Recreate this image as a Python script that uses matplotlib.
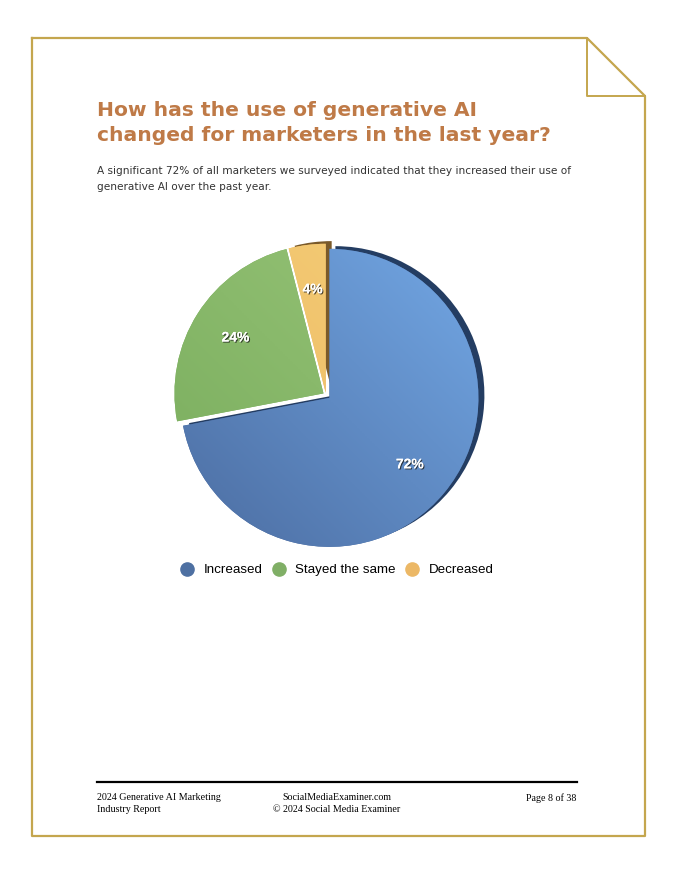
import numpy as np
import matplotlib as mpl
mpl.use('Agg')
import matplotlib.pyplot as plt
import matplotlib.colors as colors
import matplotlib.patheffects as pe
from matplotlib.lines import Line2D

labels = ['Increased', 'Stayed the same', 'Decreased']
values = [72, 24, 4]

title = 'How has the use of generative AI\nchanged for marketers in the last year?'
subtitle = ('A significant 72% of all marketers we surveyed indicated that they increased their use of\n'
            'generative AI over the past year.')
footer_left = '2024 Generative AI Marketing\nIndustry Report'
footer_mid = 'SocialMediaExaminer.com\n\u00a9 2024 Social Media Examiner'
footer_right = 'Page 8 of 38'

W, H = 674, 874
GOLD = '#C4A64E'
legend_cols = ['#4E70A2', '#80AF66', '#ECB866']
grad_cols = [('#4A6A9E', '#74AAE8'), ('#78AC5C', '#9AC67A'), ('#E9B55E', '#F7D07A')]
side_cols = ['#243D62', '#78AC5C', '#7A5A2A']

fig = plt.figure(figsize=(W / 100, H / 100), dpi=100)

# page decoration and text, in pixel coordinates
bg = fig.add_axes([0, 0, 1, 1])
bg.set_xlim(0, W)
bg.set_ylim(H, 0)
bg.axis('off')
bg.plot([32, 587, 645, 645, 32, 32], [38, 38, 96, 836, 836, 38], color=GOLD, lw=1.6)
bg.plot([587, 587, 645], [38, 96, 96], color=GOLD, lw=1.4)

bg.text(97, 101, title, fontsize=14.6, fontweight='bold', color='#BF7A47',
        va='top', ha='left', linespacing=1.38, family='DejaVu Sans')
bg.text(97, 166, subtitle, fontsize=7.6, color='#333333', va='top', ha='left',
        linespacing=1.75, family='DejaVu Sans')

bg.plot([97, 577], [782, 782], color='black', lw=1.6)
bg.text(97, 793, footer_left, fontsize=7.2, family='Liberation Serif', va='top', ha='left', linespacing=1.45)
bg.text(337, 793, footer_mid, fontsize=7.2, family='Liberation Serif', va='top', ha='center', linespacing=1.45)
bg.text(576, 793, footer_right, fontsize=7.2, family='Liberation Serif', va='top', ha='right')

# pie
cx, cy, r = 326, 395, 149
size = 340
lim = size / 2 / r
ax = fig.add_axes([(cx - size / 2) / W, (H - cy - size / 2) / H, size / W, size / H])
explode = [0.03, 0.02, 0.015]

# dark side faces, slightly offset up-right
sides, _ = ax.pie(values, colors=side_cols, startangle=90, counterclock=False, explode=explode,
                  center=(0.04, 0.018), wedgeprops=dict(linewidth=0))

wedges, texts, autotexts = ax.pie(
    values, colors=[c[0] for c in grad_cols], startangle=90, counterclock=False,
    explode=explode, autopct='%d%%', pctdistance=0.7,
    wedgeprops=dict(linewidth=0),
    textprops=dict(color='white', fontsize=10, fontweight='bold', family='Liberation Sans'))
for t in texts:
    t.set_text('')
for t in autotexts:
    t.set_path_effects([pe.withSimplePatchShadow(offset=(0.8, -0.8), shadow_rgbFace='#222222', alpha=0.8),
                        pe.Normal()])

# stacking: yellow side, yellow + green, blue side, blue
sides[1].set_visible(False)
sides[2].set_zorder(1)
wedges[2].set_zorder(2)
wedges[1].set_zorder(2)
sides[0].set_zorder(3)
wedges[0].set_zorder(4)

# lighter top-right, darker bottom-left
gx, gy = np.meshgrid(np.linspace(0, 1, 200), np.linspace(0, 1, 200))
grad = (gx + gy) / 2
for w, (c0, c1) in zip(wedges, grad_cols):
    cmap = colors.LinearSegmentedColormap.from_list('g', [c0, c1])
    im = ax.imshow(grad, extent=[-1.1, 1.1, -1.1, 1.1], origin='lower', cmap=cmap, zorder=w.get_zorder() + 0.1)
    im.set_clip_path(w)
for t in autotexts:
    t.set_zorder(10)

ax.set_xlim(-lim, lim)
ax.set_ylim(-lim, lim)
ax.axis('off')

handles = [Line2D([], [], marker='o', ls='', color=c, markersize=9.5) for c in legend_cols]
fig.legend(handles, labels, loc='center', bbox_to_anchor=(337 / W, 1 - 570 / H), ncol=3,
           frameon=False, handletextpad=0.75, columnspacing=0.7, handlelength=1.0,
           prop=dict(family='Liberation Sans', size=9.6))

fig.savefig('out.png', dpi=100, facecolor='white')
